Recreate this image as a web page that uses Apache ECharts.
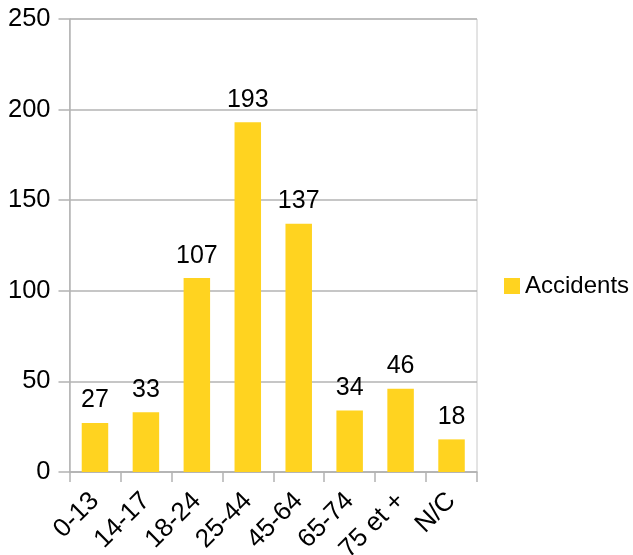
<!DOCTYPE html>
<html><head><meta charset="utf-8">
<script src="https://cdn.jsdelivr.net/npm/echarts@6/dist/echarts.min.js"></script>
<style>html,body{margin:0;padding:0;background:#fff}#c{width:633px;height:555px}</style>
</head><body><div id="c"></div>
<script>
const categories = ['0-13','14-17','18-24','25-44','45-64','65-74','75 et +','N/C'];
const accidents = [27,33,107,193,137,34,46,18];
const seriesName = 'Accidents';
const font = '"Liberation Sans", Arial, sans-serif';
const chart = echarts.init(document.getElementById('c'), null, {renderer:'canvas'});
chart.setOption({
  animation:false,
  backgroundColor:'#fff',
  grid:{left:69.5,right:156,top:19,bottom:83,containLabel:false,outerBoundsMode:'none',show:true,borderColor:'#c8c8c8',borderWidth:1,backgroundColor:'transparent'},
  legend:{
    data:[seriesName], orient:'vertical', left:499, top:269,
    itemWidth:16, itemHeight:16, itemGap:10, icon:'rect',
    textStyle:{fontFamily:font,fontSize:24,color:'#000',padding:[0,0,0,0]}
  },
  xAxis:{
    type:'category', data:categories,
    axisLine:{lineStyle:{color:'#b3b3b3',width:1.5}},
    axisTick:{show:true,length:10,alignWithLabel:false,lineStyle:{color:'#b3b3b3',width:1.5}},
    axisLabel:{rotate:45,margin:25,interval:0,fontFamily:font,fontSize:26,color:'#000'}
  },
  yAxis:{
    type:'value', min:0, max:250, interval:50,
    axisLine:{show:true,lineStyle:{color:'#b3b3b3',width:1.5}},
    axisTick:{show:true,length:11,lineStyle:{color:'#b3b3b3',width:1.5}},
    splitLine:{show:true,lineStyle:{color:'#b3b3b3',width:1.5}},
    axisLabel:{margin:19,fontFamily:font,fontSize:25.5,color:'#000'}
  },
  series:[{
    name:seriesName, type:'bar', data:accidents, barWidth:'52%',
    itemStyle:{color:'#ffd320'},
    label:{show:true,position:'top',distance:10,fontFamily:font,fontSize:25,color:'#000'}
  }]
});
</script></body></html>
